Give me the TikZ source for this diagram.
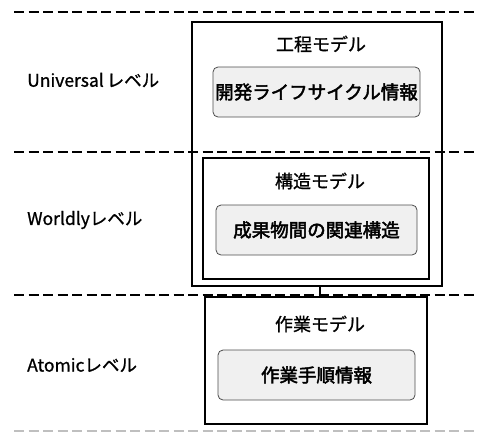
\documentclass[tikz,border=0pt]{standalone}
\usepackage{fontspec}
\setmainfont{Noto Sans CJK JP}
\newfontfamily\cjk[FakeBold=1]{Noto Sans CJK JP}
\newfontfamily\cjkb[FakeBold=2.5]{Noto Sans CJK JP}
\begin{document}
\begin{tikzpicture}[x=1pt,y=-1pt,
  levelline/.style={line width=2pt, dash pattern=on 10pt off 4.5pt},
  modelbox/.style={draw, line width=1.8pt, inner sep=0pt},
  infobox/.style={draw=black!70, line width=0.8pt, rounded corners=5pt, fill=black!6, inner sep=0pt, font=\cjkb\fontsize{18.5}{22}\selectfont},
  title/.style={font=\cjk\fontsize{18}{21}\selectfont, inner sep=0pt},
  lvl/.style={font=\cjk\fontsize{17.5}{20}\selectfont, anchor=west, inner sep=0pt}
]
\useasboundingbox (0,0) rectangle (478,434);
% level lines
\coordinate (l1a) at (14,12); \coordinate (l1b) at (478,12);
\coordinate (l2a) at (14,152); \coordinate (l2b) at (478,152);
\coordinate (l3a) at (14,295); \coordinate (l3b) at (478,295);
\coordinate (l4a) at (14,431); \coordinate (l4b) at (478,431);
\draw[levelline] (l1a) -- (l1b);
\draw[levelline] (l2a) -- (l2b);
\draw[levelline] (l3a) -- (l3b);
\draw[levelline, draw=black!25, line width=1.2pt] (l4a) -- (l4b);
% level labels
\node[lvl] (u) at (27,80) {Universal\,レベル};
\node[lvl] (w) at (27,220) {Worldlyレベル};
\node[lvl] (a) at (27,365) {Atomicレベル};
% outer process model box
\node[modelbox, minimum width=250pt, minimum height=264pt] (kotei) at (317,154) {};
\node[title] (koteiT) at (321,44) {工程モデル};
\node[infobox, minimum width=207pt, minimum height=50pt] (life) at (316.5,92) {開発ライフサイクル情報};
% structure model box
\node[modelbox, minimum width=226pt, minimum height=121pt] (kozo) at (316,218.5) {};
\node[title] (kozoT) at (320,181) {構造モデル};
\node[infobox, minimum width=201pt, minimum height=50pt] (kanren) at (316.5,230) {成果物間の関連構造};
% work model box
\node[modelbox, minimum width=222pt, minimum height=127pt] (sagyo) at (316,360.5) {};
\node[title] (sagyoT) at (320,324) {作業モデル};
\node[infobox, minimum width=197pt, minimum height=50pt] (tejun) at (316.5,375) {作業手順情報};
% connector
\draw[line width=1.5pt] (kotei.south -| 320,0) -- (sagyo.north -| 320,0);
\end{tikzpicture}
\end{document}
